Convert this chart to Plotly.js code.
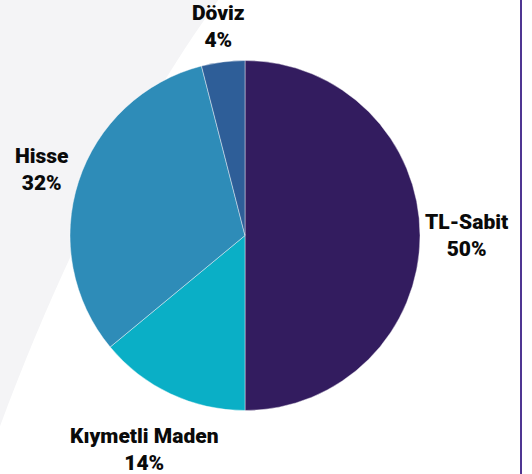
<!DOCTYPE html>
<html>
<head>
<meta charset="utf-8">
<script src="https://cdn.plot.ly/plotly-3.0.1.min.js"></script>
<style>
html,body{margin:0;padding:0;background:#ffffff;}
#chart{width:532px;height:474px;}
</style>
</head>
<body>
<div id="chart"></div>
<script>
const categories = ["TL-Sabit", "Kıymetli Maden", "Hisse", "Döviz"];
const shares = [50, 14, 32, 4];
const sliceColors = ["#331c5f", "#0aafc6", "#2e8cb8", "#2e5e98"];

const W = 532, H = 474;
const M = {l: 70, r: 112, t: 60, b: 63};
const pw = W - M.l - M.r, ph = H - M.t - M.b;
const px = x => (x - M.l) / pw;
const py = y => 1 - (y - M.t) / ph;

const FONT_FAMILY = "Roboto, 'DejaVu Sans Condensed', sans-serif";
const FONT_SIZE = 21;
const FONT_WEIGHT = 900;

// Label placement around the pie, derived from slice mid-angles
const R = Math.min(pw, ph) / 2;
const CX = M.l + pw / 2, CY = M.t + ph / 2;
const ctx = document.createElement("canvas").getContext("2d");
ctx.font = `${FONT_WEIGHT} ${FONT_SIZE}px Roboto`;
const total = shares.reduce((a, b) => a + b, 0);
let cum = 0;
const annotations = categories.map((cat, i) => {
  const frac = shares[i] / total;
  const mid = (cum + frac / 2) * 2 * Math.PI;
  cum += frac;
  const pctText = Math.round(frac * 100) + "%";
  const hw = Math.max(ctx.measureText(cat).width, ctx.measureText(pctText).width) / 2;
  const hh = FONT_SIZE * 1.3;
  const s = Math.sin(mid), c = Math.cos(mid);
  const d = R + 5 + Math.abs(s) * hw + Math.abs(c) * hh;
  return {
    xref: "paper", yref: "paper",
    x: px(CX + d * s), y: py(CY - d * c),
    xanchor: "center", yanchor: "middle",
    text: `${cat}<br>${pctText}`,
    showarrow: false, align: "center",
    font: {family: FONT_FAMILY, size: FONT_SIZE, color: "#0a0a0a", weight: FONT_WEIGHT}
  };
});

const bgPath = `M ${px(-5)},${py(-5)} L ${px(222)},${py(-5)} C ${px(160)},${py(80)} ${px(75)},${py(220)} ${px(-5)},${py(440)} Z`;

const data = [{
  type: "pie",
  labels: categories,
  values: shares,
  sort: false,
  direction: "clockwise",
  rotation: 0,
  marker: {colors: sliceColors, line: {color: "rgba(255,255,255,0.7)", width: 0.6}},
  textinfo: "none",
  hoverinfo: "none",
  showlegend: false
}];

const layout = {
  width: W, height: H,
  margin: M,
  paper_bgcolor: "#ffffff",
  plot_bgcolor: "#ffffff",
  showlegend: false,
  annotations: annotations,
  shapes: [
    {type: "path", xref: "paper", yref: "paper", path: bgPath, fillcolor: "#f4f4f6", line: {width: 0}, layer: "below"},
    {type: "line", xref: "paper", yref: "paper", x0: px(521), x1: px(521), y0: py(-2), y1: py(H + 2), line: {color: "#4f3592", width: 2}}
  ]
};

Plotly.newPlot("chart", data, layout, {displayModeBar: false, staticPlot: true});
</script>
</body>
</html>
